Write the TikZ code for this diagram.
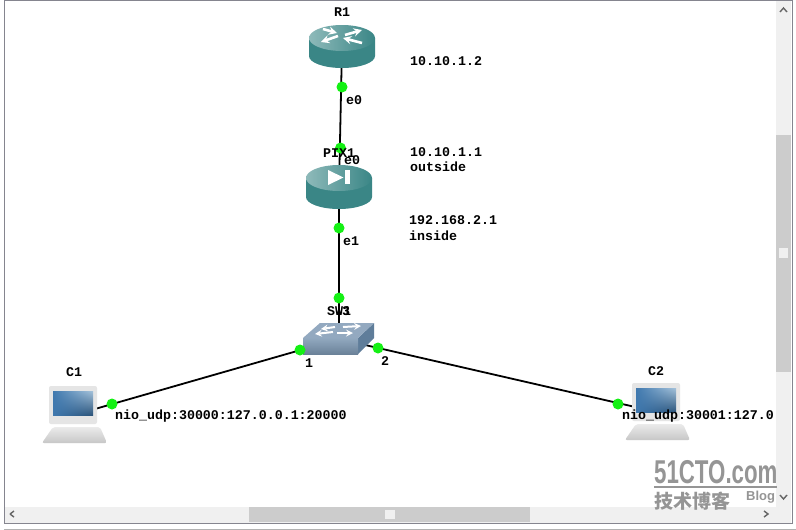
\documentclass[tikz,border=0pt]{standalone}
\usepackage{fontspec}
\setmonofont[Scale=1]{Liberation Mono}
\newfontfamily\markfont{Liberation Sans}
\newfontfamily\cjkfont{Noto Sans CJK SC}
\usepackage{tikz}
\usetikzlibrary{shadings}
\definecolor{tealtop}{HTML}{5E9C9C}
\definecolor{tealside}{HTML}{3A8686}
\definecolor{barback}{HTML}{F0F0F0}
\definecolor{barthumb}{HTML}{CCCCCC}
\definecolor{framegray}{HTML}{85858F}
\definecolor{portgreen}{HTML}{14F014}
\definecolor{markgray}{HTML}{959595}
\definecolor{swtop}{HTML}{93A9C0}
\definecolor{swfront}{HTML}{7E99B4}
\definecolor{swside}{HTML}{5F7D9A}
\definecolor{screenlo}{HTML}{3F78AE}
\definecolor{screenhi}{HTML}{A5C2DA}
\tikzset{
	device/.style={inner sep=0pt, minimum size=0pt},
	link/.style={line width=1.8pt, black},
	port/.style={circle, fill=portgreen, inner sep=0pt, minimum size=11pt},
	lab/.style={font=\ttfamily\bfseries\fontsize{13.3}{14}\selectfont, inner sep=0pt, anchor = west},
	chev/.style={draw=black!60, line width=1.4pt},
	router/.pic={
		\fill[tealside] (-33,-9) -- (-33,9) arc (180:0:33 and 12) -- (33,-9) -- cycle;
		\shade[left color=tealtop!70!white, right color=tealside] (0,-9) ellipse (33 and 13);
		\draw[white, line width=2.6pt, -stealth] (-19,-18) -- (-5,-14);
		\draw[white, line width=2.6pt, -stealth] (3,-12) -- (20,-17);
		\draw[white, line width=2.6pt, -stealth] (-4,-11) -- (-21,-5);
		\draw[white, line width=2.6pt, -stealth] (20,-4) -- (1,-9);
	},
	pixbox/.pic={
		\fill[tealside] (-33,-10) -- (-33,9) arc (180:0:33 and 12) -- (33,-10) -- cycle;
		\shade[left color=tealtop!70!white, right color=tealside] (0,-10) ellipse (33 and 13);
		\fill[white] (-11,-18) -- (-11,-3) -- (4.5,-10.5) -- cycle;
		\fill[white] (6,-18) rectangle (11,-4);
	},
	switchbox/.pic={
		\fill[swside] (19,-1) -- (35,-16) -- (35,-1) -- (19,15) -- cycle;
		\shade[top color=swfront!85!white, bottom color=swfront!85!black] (-36,-1) rectangle (19,15);
		\fill[swtop] (-36,-1) -- (-19,-16) -- (35,-16) -- (19,-1) -- cycle;
		\draw[white, line width=2pt, -stealth] (-4,-12) -- (-18,-10);
		\draw[white, line width=2pt, -stealth] (4,-12) -- (22,-13);
		\draw[white, line width=2pt, -stealth] (-6,-7) -- (-24,-5);
		\draw[white, line width=2pt, -stealth] (-2,-6) -- (14,-6);
	},
	laptop/.pic={
		\shade[top color=black!8, bottom color=black!22, rounded corners=2pt] (-32,28) -- (-21,12) -- (26,12) -- (33,28) -- cycle;
		\fill[black!10, rounded corners=2pt] (-25,-29) rectangle (23,9);
		\shade[lower left=screenlo, lower right=screenlo!70!black, upper left=screenlo, upper right=screenhi] (-21,-24) rectangle (19,0);
	}
}
\begin{document}
\begin{tikzpicture}[x=1pt, y=-1pt]
\useasboundingbox (0,0) rectangle (796,530);
\fill[white] (0,0) rectangle (796,530);

\node[device] (R1) at (342,47) {};
\node[device] (PIX1) at (339,188) {};
\node[device] (SW1) at (339,339) {};
\node[device] (C1) at (74,415) {};
\node[device] (C2) at (657,412) {};

\draw[link] (R1) -- (PIX1);
\draw[link] (PIX1) -- (SW1);
\draw[link] (SW1) -- (C1);
\draw[link] (SW1) -- (C2);

\pic at (R1) {router};
\pic at (PIX1) {pixbox};
\pic at (SW1) {switchbox};
\pic at (C1) {laptop};
\pic at (C2) {laptop};

\foreach \n/\x/\y in {portRa/342/87, portPa/340.5/148, portPb/339/228, portSc/339/298, portSa/300/350, portSb/378/348, portCa/112/404, portCb/618/404}
	\node[port] (\n) at (\x,\y) {};

\foreach \n/\x/\y/\t in {labRa/334/12/R1, labPa/323/153/PIX1, labPb/344/160/e0, labRb/346/100/e0, labPc/343/241/e1, labSa/327/311/SW1, labSc/342/311/3, labSd/305/363/1, labSe/381/361/2, labCa/66/372/C1, labCb/648/371/C2, labIa/410/61/10.10.1.2, labIb/410/152/10.10.1.1, labIc/410/167/outside, labId/409/220/192.168.2.1, labIe/409/236/inside}
	\node[lab] (\n) at (\x,\y) {\t};
\node[lab] (labCc) at (115,416) {nio\_udp:30000:127.0.0.1:20000};
\node[lab] (labCd) at (622,416) {nio\_udp:30001:127.0};

\fill[barback] (5,507) rectangle (776,523);
\fill[barback] (776,1) rectangle (791,523);
\fill[barthumb] (249,507) rectangle (530,522);
\fill[barthumb] (776,135) rectangle (791,372);
\fill[barback] (385,510) rectangle (395,519);
\fill[barback] (779,248) rectangle (788,258);
\draw[chev] (10,514) -- (14,511);
\draw[chev] (10,514) -- (14,517);
\draw[chev] (780,12) -- (783.5,8) -- (787,12);
\draw[chev] (764,511) -- (768,514) -- (764,517);
\draw[chev] (780,495) -- (783.5,499) -- (787,495);

\draw[framegray, line width=1pt] (4.5,0.5) -- (792,0.5) -- (792,523) -- (4.5,523) -- cycle;
\draw[black!30, line width=1pt] (4,529) -- (796,529);

\node[font=\markfont\bfseries\fontsize{33}{33}\selectfont, text=markgray, inner sep=0pt, anchor = west, xscale=0.675] (mark) at (654,472) {51CTO.com};
\draw[markgray, line width=2pt] (654,487) -- (777,487);
\node[font=\cjkfont\bfseries\fontsize{19}{19}\selectfont, text=markgray, inner sep=0pt, anchor = west] (markb) at (654,501) {技术博客};
\node[font=\markfont\bfseries\fontsize{13}{13}\selectfont, text=markgray, inner sep=0pt, anchor = west] (markc) at (746,497) {Blog};
\end{tikzpicture}
\end{document}
